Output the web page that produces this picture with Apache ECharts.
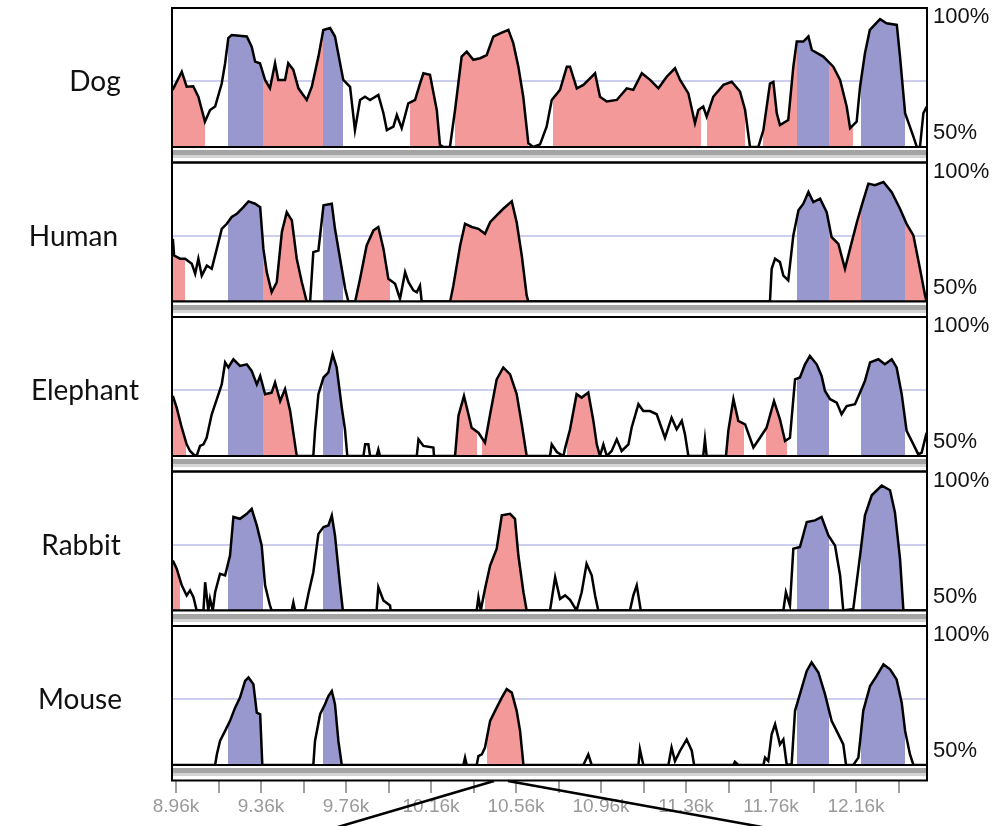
<!DOCTYPE html>
<html>
<head>
<meta charset="utf-8">
<script src="https://cdn.jsdelivr.net/npm/echarts@6/dist/echarts.min.js"></script>
<style>
  html, body { margin: 0; padding: 0; background: #fff; }
  #chart { width: 996px; height: 826px; }
</style>
</head>
<body>
<div id="chart"></div>
<script>
// species shown top to bottom
const species = ['Dog', 'Human', 'Elephant', 'Rabbit', 'Mouse'];

// exon ranges (blue), shared by every species
const exons = [[9203, 9368], [9650, 9747], [11881, 12034], [12183, 12391]];

// conserved non-coding ranges (pink), per species
const dogCns = [[8944, 9096], [9368, 9650], [10061, 10202], [10273, 10617], [10732, 11431], [11459, 11637], [11724, 11881], [12034, 12146]];
const humanCns = [[8945, 9003], [9368, 9575], [9810, 9967], [10257, 10618], [12034, 12183], [12391, 12494]];
const elephantCns = [[8945, 9007], [9368, 9520], [10278, 10375], [10399, 10610], [10802, 10947], [11551, 11633], [11736, 11834]];
const rabbitCns = [[8945, 8979], [10414, 10610]];
const mouseCns = [[10422, 10595]];

// percent identity [position bp, %]
const dog = [[8944,71.6],[8987,78.5],[9010,72.8],[9041,73],[9065,69],[9096,59.6],[9120,64],[9144,65.3],[9175,74],[9191,81.7],[9206,91.2],[9222,92.4],[9293,91.8],[9316,88],[9332,82.3],[9355,81.7],[9379,75.4],[9402,72.2],[9426,81.7],[9441,75.4],[9473,75.4],[9488,81.7],[9512,79.2],[9536,72.2],[9575,67.8],[9599,72.8],[9630,84.2],[9653,94.3],[9685,95],[9708,91.8],[9732,81.7],[9747,75.4],[9779,72.8],[9802,56.4],[9826,67.8],[9849,69],[9873,67.8],[9912,69.7],[9936,62.8],[9952,56.4],[9983,57.7],[9999,62.1],[10022,57.1],[10053,66.5],[10085,67.8],[10108,74],[10124,77.9],[10155,77.3],[10187,64],[10202,50.8],[10218,50],[10249,50],[10273,64],[10304,84.2],[10328,86.1],[10359,83],[10391,83.6],[10422,84.8],[10453,91.8],[10485,93],[10524,94.3],[10547,89.3],[10571,80.4],[10594,69],[10618,51.4],[10641,50],[10673,51],[10704,57.7],[10728,67.8],[10767,71.6],[10799,80.4],[10814,80.4],[10846,72.2],[10877,73.5],[10932,77.9],[10955,69],[10987,67.2],[11034,67.8],[11081,72.2],[11112,71.6],[11152,77.9],[11191,75.4],[11230,72.2],[11269,76.6],[11308,79.8],[11332,75.4],[11371,70.3],[11402,59],[11418,64],[11441,65.3],[11457,61.5],[11488,69],[11536,73.5],[11575,74.7],[11614,71],[11638,64],[11661,50],[11700,50],[11724,56.4],[11755,74],[11771,74.6],[11787,62.8],[11802,58.3],[11841,60.2],[11865,80.4],[11881,89.9],[11912,89.9],[11936,91.8],[11952,86.7],[12006,84.2],[12053,80.4],[12085,75.4],[12116,65.3],[12132,57.1],[12163,59.6],[12179,72.8],[12202,85.5],[12225,94.3],[12273,98.4],[12304,96.8],[12352,96.2],[12367,84.2],[12391,62.8],[12430,53.9],[12446,50],[12461,50],[12477,62.8],[12493,65.3]];

const human = [[8945,73.7],[8951,67.4],[8979,66.2],[9003,66.2],[9034,64.3],[9050,60.5],[9065,66.2],[9081,59.8],[9105,63.6],[9128,62.4],[9152,70],[9175,77.5],[9199,79.4],[9222,82],[9246,83.2],[9277,85.7],[9301,87.9],[9332,87],[9356,85.7],[9371,70],[9387,61.1],[9410,53.5],[9434,57.3],[9458,76.3],[9481,83.8],[9505,80.7],[9528,66.2],[9552,57.3],[9575,50],[9591,50],[9606,68.7],[9630,69.3],[9654,86.4],[9693,87],[9708,77.5],[9732,66.2],[9756,54.8],[9771,50],[9803,50],[9826,58.6],[9857,71.2],[9889,76.9],[9912,78.2],[9936,70],[9959,58.6],[9991,56.7],[10014,51],[10038,61.1],[10054,57.3],[10077,54.2],[10093,53.5],[10108,56],[10116,50],[10250,50],[10265,56],[10297,71.2],[10320,79.4],[10352,78.2],[10383,77.5],[10414,75.6],[10438,80],[10469,82.6],[10500,85.1],[10540,87.9],[10563,80],[10587,67.4],[10610,52.3],[10618,50],[11755,50],[11763,62.4],[11779,66.2],[11802,64.9],[11818,59.8],[11841,58],[11865,75],[11889,84.5],[11912,87],[11936,91.4],[11959,87.6],[11991,88.9],[12022,83.8],[12045,74.4],[12077,71.8],[12108,62.4],[12132,70],[12164,80],[12187,86.4],[12218,94.6],[12249,94],[12289,95.2],[12328,91.4],[12367,85.1],[12398,79.4],[12430,75],[12461,62.4],[12485,52.3],[12492,50]];

const elephant = [[8945,72.7],[8963,68.3],[8987,60.7],[9010,54.4],[9026,51.9],[9042,50.6],[9057,50],[9073,53.8],[9089,54.4],[9104,56.9],[9128,65.8],[9152,71.5],[9175,77.1],[9191,85.4],[9206,83.5],[9230,86.6],[9261,84.1],[9293,84.7],[9316,82.2],[9340,77.1],[9356,80.3],[9379,73.4],[9410,74],[9426,77.8],[9450,70.8],[9473,75.3],[9497,67],[9520,54.4],[9528,50],[9606,50],[9614,59.5],[9630,73.4],[9654,79.7],[9677,81.6],[9697,88.5],[9716,83.5],[9740,68.3],[9755,60.1],[9766,50],[9842,50],[9850,54.4],[9865,54.4],[9873,50],[9904,50],[9912,52.5],[9920,50],[10093,50],[10101,56.3],[10124,53.8],[10171,53.2],[10174,50],[10273,50],[10289,65.2],[10315,72.7],[10336,65.8],[10351,60.7],[10383,58.8],[10414,55],[10438,65.8],[10469,79],[10500,83.5],[10532,80.9],[10563,73.4],[10587,62],[10610,50],[10720,50],[10728,54.4],[10752,51.5],[10783,50],[10791,53],[10814,60],[10845,73.4],[10869,72.1],[10900,74],[10924,63.3],[10940,54.4],[10955,50],[10971,54.4],[10987,50],[11010,51.9],[11034,56.3],[11057,51.9],[11089,54.4],[11104,60.7],[11136,69.6],[11159,67],[11190,67],[11222,65.8],[11261,56.9],[11292,64.5],[11316,60.1],[11340,63.3],[11355,58.2],[11371,50],[11441,50],[11449,56.3],[11457,50],[11548,50],[11559,59.5],[11583,71.5],[11606,63.3],[11638,62],[11677,53.2],[11708,56.9],[11739,60.7],[11774,70.8],[11802,63.9],[11826,55.7],[11849,56.9],[11873,79],[11896,79.7],[11920,84.7],[11943,87.9],[11975,84.7],[11998,80.3],[12014,74.6],[12038,71.5],[12069,70.2],[12092,65.8],[12116,68.9],[12155,69.6],[12179,74],[12202,78.4],[12226,85.4],[12265,86.6],[12296,84.7],[12328,86.6],[12351,83.5],[12375,73.4],[12398,59.5],[12430,54.4],[12453,50.6],[12469,51.3],[12492,58.8]];

const rabbit = [[8945,68.9],[8963,65.8],[8987,59.5],[9010,55.7],[9026,57.6],[9042,55],[9057,50],[9089,50],[9097,60.7],[9112,50],[9120,54.4],[9133,50],[9144,56.9],[9167,63.9],[9191,63.3],[9214,70.8],[9230,85.4],[9261,84.7],[9293,86.6],[9316,88.5],[9340,82.2],[9363,74.6],[9379,59.5],[9402,51.9],[9410,50],[9504,50],[9512,53],[9520,50],[9567,50],[9583,56.3],[9606,64.5],[9630,79],[9654,81.6],[9677,82.2],[9693,86],[9708,78.4],[9732,59.5],[9745,50],[9904,50],[9912,58.8],[9936,53.8],[9967,51.9],[9970,50],[10375,50],[10383,55],[10394,50],[10414,58.2],[10438,67],[10469,73.4],[10493,86],[10532,86.6],[10555,84.7],[10571,70.8],[10595,56.9],[10610,50],[10720,50],[10744,62.6],[10767,54.4],[10791,55.7],[10814,54],[10845,50],[10869,56.9],[10892,67.7],[10916,63.3],[10932,55.7],[10947,50],[11096,50],[11112,55.7],[11128,59.5],[11147,50],[11818,50],[11830,56.9],[11849,51.9],[11865,73.4],[11896,74],[11928,83.5],[11967,84.1],[11998,85.4],[12030,78.4],[12061,74.6],[12085,63.3],[12100,50],[12147,50.6],[12179,70.8],[12202,86],[12234,93.6],[12281,97.3],[12320,95.5],[12343,87.2],[12367,69.6],[12383,50],[12494,50]];

const mouse = [[8945,50],[9144,50],[9152,54],[9167,59.1],[9191,62.9],[9214,66.7],[9238,71.7],[9261,75.5],[9285,81.8],[9301,83.1],[9324,80.6],[9340,69.8],[9356,69.2],[9366,50],[9606,50],[9614,59.1],[9638,69.2],[9661,73],[9677,76.1],[9693,78],[9708,73],[9724,59.1],[9740,50],[10312,50],[10320,52.8],[10328,50],[10375,50],[10383,53.4],[10399,54],[10414,56.6],[10438,66.7],[10469,71.7],[10493,75.5],[10516,78.7],[10540,77.4],[10563,70.5],[10579,62.9],[10595,50],[10877,50],[10900,54],[10916,50],[11136,50],[11143,55.9],[11159,50],[11277,50],[11292,56.6],[11308,51.5],[11332,55.4],[11363,59.7],[11387,55.4],[11398,50],[11582,50],[11590,51.2],[11606,50],[11724,50],[11732,52.8],[11747,51.5],[11763,61.6],[11779,65.4],[11802,57.8],[11818,59.7],[11834,50],[11857,50.3],[11873,70.5],[11896,76.8],[11928,85.6],[11951,88.8],[11983,85],[12014,76.8],[12045,66.7],[12077,61.6],[12100,57.8],[12113,50],[12147,50],[12171,52.8],[12194,70.5],[12226,79.9],[12257,83.7],[12289,88.1],[12320,86.2],[12351,82.4],[12375,73.6],[12391,62.9],[12414,54],[12430,50],[12494,50]];

// labelled axis ticks
const tickLabels = ['8.96k', '9.36k', '9.76k', '10.16k', '10.56k', '10.96k', '11.36k', '11.76k', '12.16k'];

const seriesData = [dog, human, elephant, rabbit, mouse];
const cnsData = [dogCns, humanCns, elephantCns, rabbitCns, mouseCns];

const RED = '#f39999';
const BLUE = '#9898cf';
const LEFT = 172, WIDTH = 755, TOP0 = 8, PITCH = 154.5, H = 139;
const XMIN = 8941, XMAX = 12494;

const chart = echarts.init(document.getElementById('chart'));

const grids = [], xAxes = [], yAxes = [], series = [], visualMaps = [], graphics = [];
const labelX = [95, 73.5, 85, 81, 80];

species.forEach(function (name, i) {
  const top = TOP0 + i * PITCH;
  grids.push({ left: LEFT, top: top, width: WIDTH, height: H });
  xAxes.push({ type: 'value', gridIndex: i, min: XMIN, max: XMAX, show: false });
  yAxes.push({
    type: 'value', gridIndex: i, min: 50, max: 102.6, interval: 25,
    axisLine: { show: false }, axisTick: { show: false }, axisLabel: { show: false },
    splitLine: { show: true, lineStyle: { width: 1.5, color: ['rgba(0,0,0,0)', '#bdbde8', 'rgba(0,0,0,0)', 'rgba(0,0,0,0)'] } }
  });
  series.push({
    type: 'line', xAxisIndex: i, yAxisIndex: i, data: seriesData[i],
    showSymbol: false, symbol: 'none',
    lineStyle: { color: '#000', width: 2.5, join: 'miter' },
    areaStyle: { opacity: 1, origin: 'start' },
    animation: false
  });
  const pieces = exons.map(function (r) { return { gte: r[0], lt: r[1], color: BLUE }; })
    .concat(cnsData[i].map(function (r) { return { gte: r[0], lt: r[1], color: RED }; }))
    .sort(function (a, b) { return a.gte - b.gte; });
  visualMaps.push({
    type: 'piecewise', show: false, dimension: 0, seriesIndex: i,
    pieces: pieces, outOfRange: { color: 'rgba(0,0,0,0)' }
  });

  // panel frame
  graphics.push({
    type: 'rect', z: 100, silent: true,
    shape: { x: LEFT, y: top, width: WIDTH, height: H },
    style: { fill: 'none', stroke: '#000', lineWidth: 2 }
  });
  // grey ruler band below each panel
  graphics.push({
    type: 'rect', z: 100, silent: true,
    shape: { x: LEFT, y: top + H, width: WIDTH, height: 15.5 },
    style: {
      stroke: '#000', lineWidth: 2,
      fill: new echarts.graphic.LinearGradient(0, 0, 0, 1, [
        { offset: 0, color: '#ffffff' }, { offset: 0.24, color: '#ffffff' },
        { offset: 0.24, color: '#a4a4a4' }, { offset: 0.52, color: '#a4a4a4' },
        { offset: 0.52, color: '#d4d4d4' }, { offset: 0.7, color: '#d4d4d4' },
        { offset: 0.7, color: '#ffffff' }, { offset: 1, color: '#ffffff' }
      ])
    }
  });
  graphics.push({
    type: 'text', z: 100, silent: true, x: 933, y: top + 9,
    style: { text: '100%', font: '22px "Liberation Sans", Arial, sans-serif', fill: '#111', verticalAlign: 'middle' }
  });
  graphics.push({
    type: 'text', z: 100, silent: true, x: 933, y: top + H - 14,
    style: { text: '50%', font: '22px "Liberation Sans", Arial, sans-serif', fill: '#111', verticalAlign: 'middle' }
  });
  graphics.push({
    type: 'text', z: 100, silent: true, x: labelX[i], y: top + 74,
    style: { text: name, font: '28px Lato, "Open Sans", sans-serif', fill: '#111', align: 'center', verticalAlign: 'middle' }
  });
});

// tick ruler under the last panel
grids.push({ left: 176, top: 780, width: 722.5, height: 1 });
xAxes.push({
  type: 'value', gridIndex: 5, min: 8960, max: 12360, interval: 200, position: 'bottom',
  axisLine: { show: false },
  axisTick: { show: true, length: 12, lineStyle: { color: '#808080', width: 1.5 } },
  splitLine: { show: false },
  axisLabel: {
    color: '#9a9a9a', fontSize: 19, fontFamily: '"Liberation Sans", Arial, sans-serif', margin: 16,
    formatter: function (v) {
      const k = Math.round((v - 8960) / 400);
      return (v - 8960) % 400 === 0 ? tickLabels[k] : '';
    }
  }
});
yAxes.push({ type: 'value', gridIndex: 5, show: false });

// zoom-in guide lines
graphics.push({ type: 'line', z: 100, silent: true, shape: { x1: 494, y1: 781, x2: 338, y2: 827 }, style: { stroke: '#000', lineWidth: 2.5 } });
graphics.push({ type: 'line', z: 100, silent: true, shape: { x1: 508, y1: 781, x2: 762, y2: 827 }, style: { stroke: '#000', lineWidth: 2.5 } });

chart.setOption({
  animation: false,
  backgroundColor: '#fff',
  grid: grids,
  xAxis: xAxes,
  yAxis: yAxes,
  visualMap: visualMaps,
  series: series,
  graphic: graphics
});
</script>
</body>
</html>
